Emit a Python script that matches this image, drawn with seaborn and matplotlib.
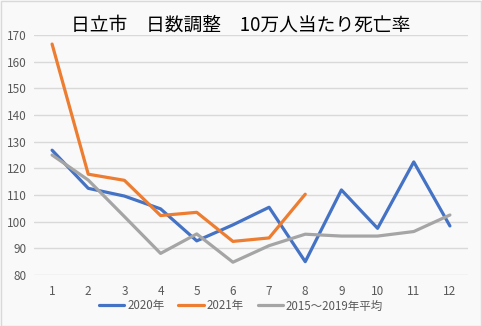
import matplotlib
matplotlib.use("Agg")
import matplotlib.pyplot as plt
import seaborn as sns
import pandas as pd
from matplotlib.patches import Rectangle
from matplotlib.lines import Line2D

months = list(range(1, 13))
s2020 = [126.8, 112.5, 109.6, 104.8, 92.8, 98.8, 105.4, 85.0, 111.9, 97.5, 122.4, 98.4]
s2021 = [166.6, 117.8, 115.5, 102.3, 103.5, 92.6, 93.9, 110.3]
savg = [125.0, 115.6, 101.9, 88.1, 95.4, 84.8, 91.0, 95.3, 94.6, 94.6, 96.3, 102.5]
labels = ["2020年", "2021年", "2015～2019年平均"]
colors = ["#4472C4", "#ED7D31", "#A5A5A5"]
title = "日立市　日数調整　10万人当たり死亡率"

rows = []
for lab, vals in zip(labels, [s2020, s2021, savg]):
    for m, v in zip(months, vals):
        rows.append({"month": m, "value": v, "series": lab})
df = pd.DataFrame(rows)

sns.set_theme(style="white")
plt.rcParams["font.family"] = ["Noto Sans CJK JP", "DejaVu Sans"]

W, H = 482, 326
fig = plt.figure(figsize=(W / 100, H / 100), dpi=100)
fig.patch.set_facecolor("#f9f9f9")
fig.patches.append(Rectangle((0.5 / W, 0.5 / H), 1 - 1.5 / W, 1 - 1.5 / H, transform=fig.transFigure,
                             fill=False, edgecolor="#d9d9d9", lw=1))
ax = fig.add_axes([34 / W, 1 - 275 / H, (468 - 34) / W, (275 - 35) / H])
ax.set_facecolor("#f9f9f9")

sns.lineplot(data=df, x="month", y="value", hue="series", hue_order=labels,
             palette=colors, linewidth=2.3, ax=ax, legend=False)

ax.set_xlim(0.5, 12.5)
ax.set_ylim(80, 170)
ax.set_yticks(range(80, 171, 10))
ax.set_xticks(months)
ax.grid(axis="y", color="#d9d9d9", lw=1)
ax.set_axisbelow(True)
for sp in ax.spines.values():
    sp.set_visible(False)
ax.tick_params(axis="both", length=0, labelsize=8.5, labelcolor="#595959")
ax.tick_params(axis="y", pad=5)
ax.tick_params(axis="x", pad=7)
ax.set_xlabel("")
ax.set_ylabel("")

fig.text(0.5, 1 - 25 / H, title, ha="center", va="center", fontsize=13.5, color="#000000")

handles = [Line2D([0], [0], color=c, lw=2.3) for c in colors]
fig.legend(handles, labels, loc="center", bbox_to_anchor=(0.5, 1 - 306 / H), ncol=3,
           frameon=False, fontsize=8.3, labelcolor="#595959", handlelength=2.2,
           handletextpad=0.25, columnspacing=1.2, borderpad=0.1)

fig.savefig("out.png", dpi=100, facecolor=fig.get_facecolor())
